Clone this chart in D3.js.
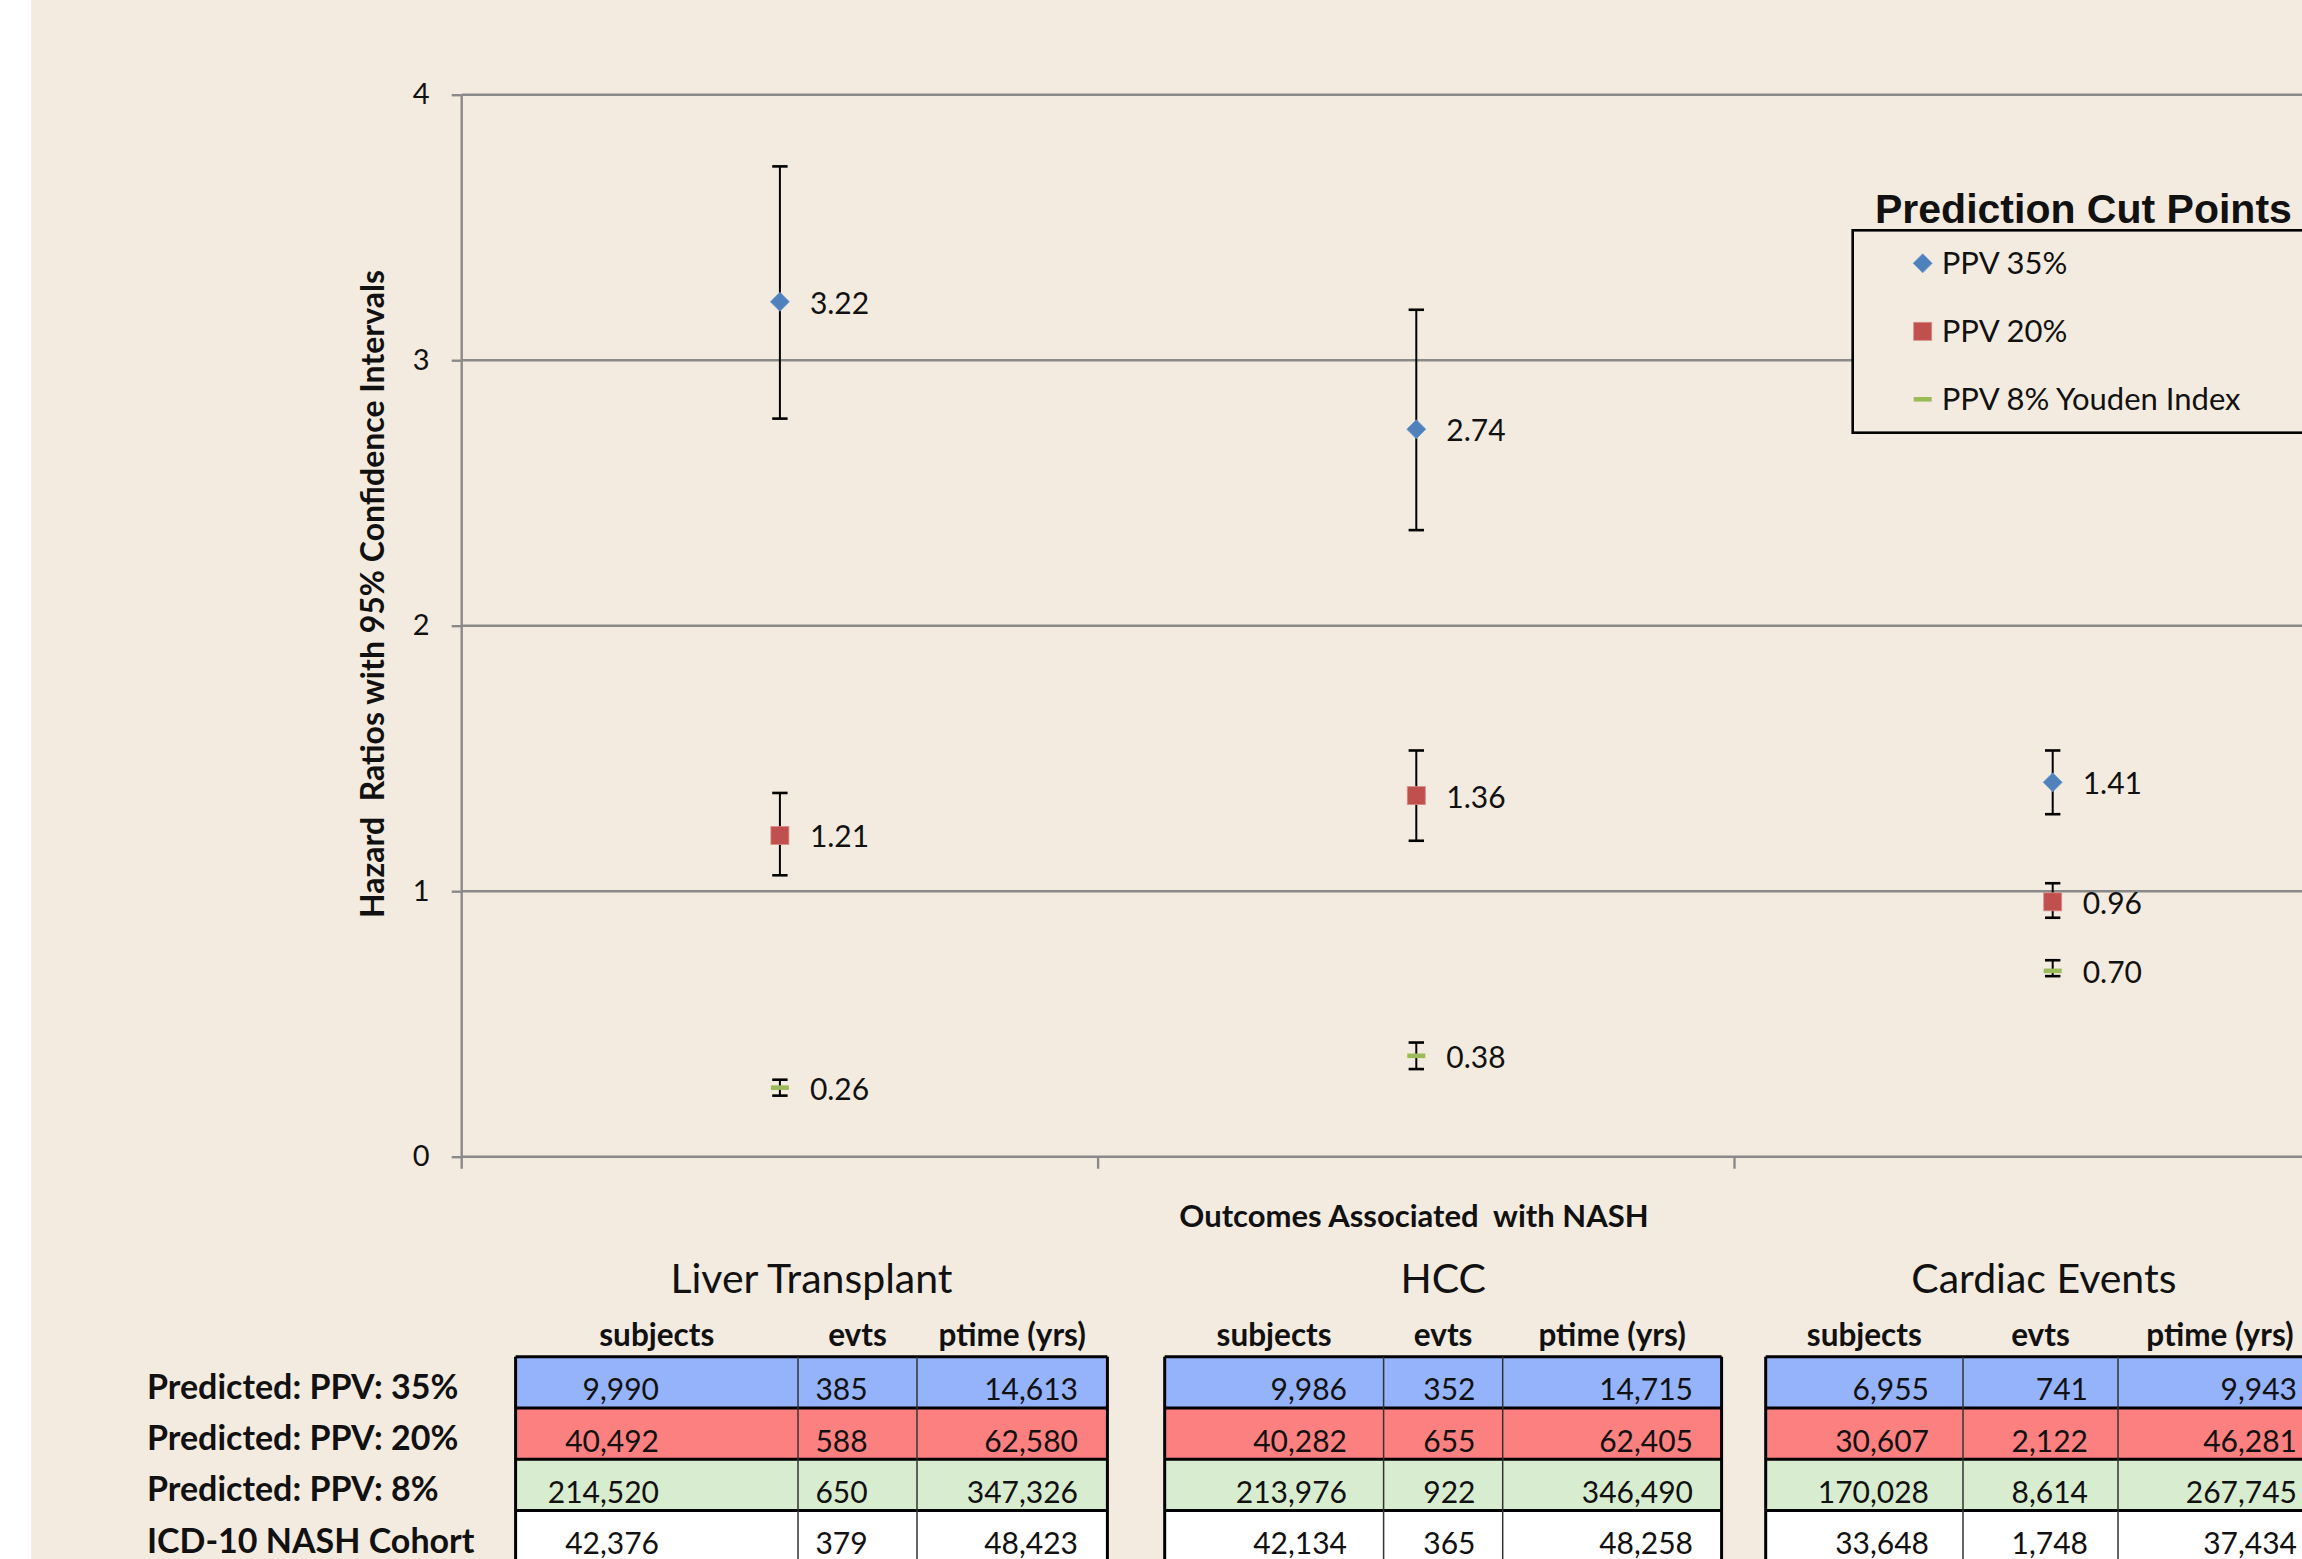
<!DOCTYPE html>
<html>
<head>
<meta charset="utf-8">
<script src="https://cdnjs.cloudflare.com/ajax/libs/d3/7.8.5/d3.min.js"></script>
<style>
  body { margin: 0; background: #ffffff; }
  text { font-family: Lato, "Open Sans", sans-serif; fill: #111; }
</style>
</head>
<body>
<script>
// ---- data ----
var categories = ["Liver Transplant", "HCC", "Cardiac Events"];
var seriesNames = ["PPV 35%", "PPV 20%", "PPV 8% Youden Index"];

var hr35 = [3.22, 2.74, 1.41],
    lo35 = [2.78, 2.36, 1.29],
    hi35 = [3.73, 3.19, 1.53];
var hr20 = [1.21, 1.36, 0.96],
    lo20 = [1.06, 1.19, 0.90],
    hi20 = [1.37, 1.53, 1.03];
var hr8 = [0.26, 0.38, 0.70],
    lo8 = [0.23, 0.33, 0.68],
    hi8 = [0.29, 0.43, 0.74];

var yTicks = [0, 1, 2, 3, 4];

var rowLabels = ["Predicted: PPV: 35%", "Predicted: PPV: 20%", "Predicted: PPV: 8%", "ICD-10 NASH Cohort"];
var colHeaders = ["subjects", "evts", "ptime (yrs)"];

var liverCells = [["9,990", "385", "14,613"],
                  ["40,492", "588", "62,580"],
                  ["214,520", "650", "347,326"],
                  ["42,376", "379", "48,423"]];
var hccCells = [["9,986", "352", "14,715"],
                ["40,282", "655", "62,405"],
                ["213,976", "922", "346,490"],
                ["42,134", "365", "48,258"]];
var cardiacCells = [["6,955", "741", "9,943"],
                    ["30,607", "2,122", "46,281"],
                    ["170,028", "8,614", "267,745"],
                    ["33,648", "1,748", "37,434"]];

// ---- layout ----
var W = 2302, H = 1559;
var colours = ["#4f81bd", "#c0504d", "#9bbb59"];
var rowFills = ["#95b3fb", "#fd8080", "#d8ecd0", "#ffffff"];

var svg = d3.select("body").append("svg")
    .attr("width", W)
    .attr("height", H);

svg.append("rect").attr("x", 31).attr("y", 0)
    .attr("width", W - 31).attr("height", H)
    .attr("fill", "#f3ebdf");

var x = d3.scaleBand().domain(categories).range([461.7, 2370.9]).padding(0),
    y = d3.scaleLinear().domain([0, 4]).range([1156.7, 94.7]);

var g = svg.append("g");

// gridlines
g.selectAll(".grid")
    .data(yTicks)
  .enter().append("line")
    .attr("x1", x.range()[0]).attr("x2", x.range()[1])
    .attr("y1", function(d) { return y(d); })
    .attr("y2", function(d) { return y(d); })
    .attr("stroke", "#8a8a8a")
    .attr("stroke-width", 2.4);

// y axis
var yAxis = g.append("g")
    .attr("transform", "translate(" + x.range()[0] + ",0)")
    .call(d3.axisLeft(y).tickValues(yTicks).tickSize(10).tickSizeOuter(0).tickPadding(22).tickFormat(d3.format("d")));
yAxis.select(".domain").remove();
yAxis.selectAll(".tick line").attr("stroke", "#8a8a8a").attr("stroke-width", 2.4);
yAxis.selectAll(".tick text")
    .style("font-family", "Lato, sans-serif")
    .style("font-size", "29px")
    .attr("fill", "#111");
g.append("line")
    .attr("x1", x.range()[0]).attr("x2", x.range()[0])
    .attr("y1", y(4)).attr("y2", y(0) + 12)
    .attr("stroke", "#8a8a8a").attr("stroke-width", 2.4);

// x axis ticks at category boundaries
var bounds = categories.map(function(c) { return x(c); }).concat([x.range()[1]]);
g.selectAll(".xtick")
    .data(bounds.slice(1))
  .enter().append("line")
    .attr("x1", function(d) { return d; }).attr("x2", function(d) { return d; })
    .attr("y1", y(0)).attr("y2", y(0) + 12)
    .attr("stroke", "#8a8a8a").attr("stroke-width", 2.4);

// axis titles
svg.append("text")
    .attr("x", 1414).attr("y", 1227)
    .attr("text-anchor", "middle")
    .attr("font-size", 31).attr("font-weight", "bold")
    .style("white-space", "pre")
    .text("Outcomes Associated  with NASH");

svg.append("text")
    .attr("transform", "translate(384,594) rotate(-90)")
    .attr("text-anchor", "middle")
    .attr("font-size", 32).attr("font-weight", "bold")
    .style("white-space", "pre")
    .text("Hazard  Ratios with 95% Confidence Intervals");

// series
var series = [
  {name: seriesNames[0], hr: hr35, lo: lo35, hi: hi35, colour: colours[0], shape: "diamond"},
  {name: seriesNames[1], hr: hr20, lo: lo20, hi: hi20, colour: colours[1], shape: "square"},
  {name: seriesNames[2], hr: hr8, lo: lo8, hi: hi8, colour: colours[2], shape: "dash"}
];

function cx(i) { return x(categories[i]) + x.bandwidth() / 2; }

function drawMarker(sel, shape, colour) {
  if (shape === "diamond") {
    sel.append("path").attr("d", "M0,-9.5L9.5,0L0,9.5L-9.5,0Z")
        .attr("fill", colour).attr("stroke", "#6d97cc").attr("stroke-width", 0.8);
  } else if (shape === "square") {
    sel.append("rect").attr("x", -9).attr("y", -9).attr("width", 18).attr("height", 18)
        .attr("fill", colour).attr("stroke", "#d98a88").attr("stroke-width", 0.8);
  } else {
    sel.append("rect").attr("x", -9).attr("y", -2.3).attr("width", 18).attr("height", 4.6)
        .attr("fill", colour);
  }
}

series.forEach(function(s) {
  var pts = s.hr.map(function(v, i) { return {i: i, v: v, lo: s.lo[i], hi: s.hi[i]}; });
  var grp = g.append("g");

  var eb = grp.selectAll(".eb").data(pts).enter().append("g");
  eb.append("line")
      .attr("x1", function(d) { return cx(d.i); }).attr("x2", function(d) { return cx(d.i); })
      .attr("y1", function(d) { return y(d.lo); }).attr("y2", function(d) { return y(d.hi); })
      .attr("stroke", "#000").attr("stroke-width", 2);
  ["lo", "hi"].forEach(function(k) {
    eb.append("line")
        .attr("x1", function(d) { return cx(d.i) - 7.7; }).attr("x2", function(d) { return cx(d.i) + 7.7; })
        .attr("y1", function(d) { return y(d[k]); }).attr("y2", function(d) { return y(d[k]); })
        .attr("stroke", "#000").attr("stroke-width", 2.6);
  });

  var mk = grp.selectAll(".mk").data(pts).enter().append("g")
      .attr("transform", function(d) { return "translate(" + cx(d.i) + "," + y(d.v) + ")"; });
  drawMarker(mk, s.shape, s.colour);

  grp.selectAll(".lbl").data(pts).enter().append("text")
      .attr("x", function(d) { return cx(d.i) + 30; })
      .attr("y", function(d) { return y(d.v); })
      .attr("dy", "0.4em")
      .attr("font-size", 30)
      .text(function(d) { return d.v.toFixed(2); });
});

// legend
var legend = svg.append("g");
legend.append("rect")
    .attr("x", 1852.7).attr("y", 230.3)
    .attr("width", 480).attr("height", 202.4)
    .attr("fill", "#f3ebdf").attr("stroke", "#000").attr("stroke-width", 2.6);
legend.append("text")
    .attr("x", 1875).attr("y", 223.3)
    .style("font-family", "'Liberation Sans', Arial, sans-serif")
    .attr("font-weight", "bold").attr("font-size", 41)
    .text("Prediction Cut Points");
var li = legend.selectAll(".li").data(series).enter().append("g")
    .attr("transform", function(d, i) { return "translate(1922.7," + (263.3 + i * 68) + ")"; });
li.each(function(d) { drawMarker(d3.select(this), d.shape, d.colour); });
li.append("text")
    .attr("x", 19).attr("dy", "0.36em")
    .attr("font-size", 31)
    .text(function(d) { return d.name; });

// tables
var tables = [
  {title: categories[0], cells: liverCells, edges: [515.6, 798, 917, 1107.4], anchors: [659, 867.6, 1078]},
  {title: categories[1], cells: hccCells, edges: [1164.7, 1383.6, 1502.7, 1721.6], anchors: [1347, 1475.5, 1693]},
  {title: categories[2], cells: cardiacCells, edges: [1765.7, 1963, 2118, 2322], anchors: [1929, 2088, 2297]}
];
var rowTop = 1356.7, rowH = 51.3;

tables.forEach(function(t) {
  var tg = svg.append("g");
  var e = t.edges;
  tg.append("text")
      .attr("x", (e[0] + e[3]) / 2).attr("y", 1293)
      .attr("text-anchor", "middle").attr("font-size", 41)
      .text(t.title);
  tg.selectAll(".hd").data(colHeaders).enter().append("text")
      .attr("x", function(d, j) { return (e[j] + e[j + 1]) / 2; })
      .attr("y", 1346)
      .attr("text-anchor", "middle").attr("font-size", 31.5).attr("font-weight", "bold")
      .text(function(d) { return d; });

  var rows = tg.selectAll(".row").data(t.cells).enter().append("g");
  rows.append("rect")
      .attr("x", e[0]).attr("y", function(d, i) { return rowTop + i * rowH; })
      .attr("width", e[3] - e[0]).attr("height", rowH)
      .attr("fill", function(d, i) { return rowFills[i]; });
  rows.each(function(r, i) {
    d3.select(this).selectAll("text").data(r).enter().append("text")
        .attr("x", function(d, j) { return t.anchors[j]; })
        .attr("y", rowTop + i * rowH + 43.5)
        .attr("text-anchor", "end").attr("font-size", 30)
        .text(function(d) { return d; });
  });
  // borders
  d3.range(t.cells.length + 1).forEach(function(i) {
    tg.append("line")
        .attr("x1", e[0]).attr("x2", e[3])
        .attr("y1", rowTop + i * rowH).attr("y2", rowTop + i * rowH)
        .attr("stroke", "#000").attr("stroke-width", 3);
  });
  e.forEach(function(xv, j) {
    var outer = (j === 0 || j === e.length - 1);
    tg.append("line")
        .attr("x1", xv).attr("x2", xv)
        .attr("y1", rowTop).attr("y2", rowTop + t.cells.length * rowH)
        .attr("stroke", outer ? "#000" : "#333").attr("stroke-width", outer ? 3 : 1.5);
  });
});

// row labels
svg.selectAll(".rl").data(rowLabels).enter().append("text")
    .attr("x", 147).attr("y", function(d, i) { return rowTop + i * rowH + 42; })
    .attr("font-size", 34).attr("font-weight", "bold")
    .text(function(d) { return d; });
</script>
</body>
</html>
